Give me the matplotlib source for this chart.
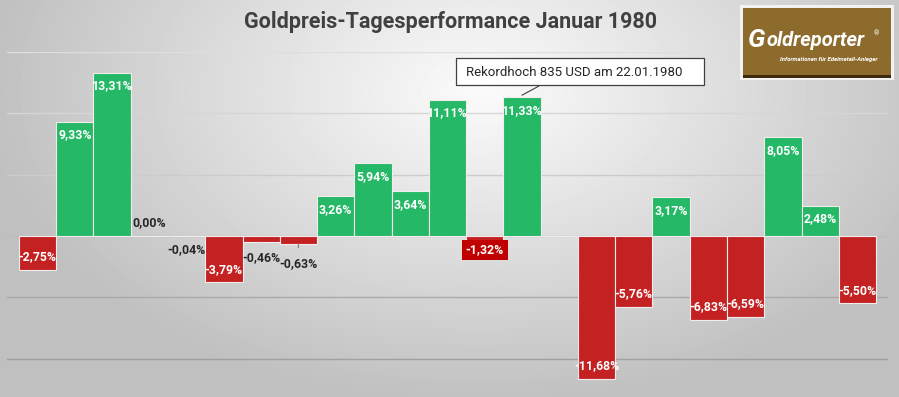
import numpy as np
import matplotlib.pyplot as plt
from matplotlib.patches import Rectangle

# Tagesperformance in Prozent (NaN = kein Handelstag)
values = [-2.75, 9.33, 13.31, 0.00, -0.04, -3.79, -0.46, -0.63, 3.26, 5.94,
          3.64, 11.11, -1.32, 11.33, np.nan, -11.68, -5.76, 3.17, -6.83,
          -6.59, 8.05, 2.48, -5.50]
title = 'Goldpreis-Tagesperformance Januar 1980'
note = 'Rekordhoch 835 USD am 22.01.1980'
note_idx = 13

GREEN = '#25b866'
RED = '#c42222'

W, H = 899, 397
plt.rcParams['font.family'] = ['Roboto', 'DejaVu Sans']

fig = plt.figure(figsize=(W / 100, H / 100), dpi=100)

# Hintergrund mit radialem Verlauf
bg = fig.add_axes([0, 0, 1, 1], zorder=-10)
yy, xx = np.mgrid[0:H, 0:W]
d = np.sqrt(((xx - 480) / 520.0) ** 2 + ((yy - 90) / 330.0) ** 2)
g = np.clip(251 - 62 * d, 192, 251) / 255.0
bg.imshow(g, cmap='gray', vmin=0, vmax=1, extent=[0, W, H, 0], aspect='auto')
bg.axis('off')

ax = fig.add_axes([7 / W, 0, 881 / W, 345 / H])
ax.patch.set_alpha(0)
ax.set_xlim(-0.82, 22.82)
ax.set_ylim(-13.13, 15)
for s in ax.spines.values():
    s.set_visible(False)
ax.set_xticks([])
ax.set_yticks([])

grid_cols = {15: '#dedede', 10: '#d6d6d6', 5: '#cccccc', 0: '#bdbdbd',
             -5: '#aaaaaa', -10: '#a0a0a0'}
for gy, c in grid_cols.items():
    ax.axhline(gy, color=c, lw=1.0, zorder=0)

x = np.arange(len(values))
vals = np.array(values)
cols = [GREEN if v >= 0 else RED for v in np.nan_to_num(vals)]
ax.bar(x, np.nan_to_num(vals), width=1.0, color=cols, edgecolor='#f4ecec',
       linewidth=0.8, zorder=2)

# Versatz (in Punkt) der Beschriftungen bei kleinen Balken
small_off = {3: 9.5, 4: -9.7, 6: -11.8, 7: -14.6, 12: 1.5}

for i, v in enumerate(values):
    if np.isnan(v):
        continue
    txt = ('%.2f%%' % v).replace('.', ',')
    kw = dict(textcoords='offset points', ha='center', va='center',
              fontsize=8.8, fontweight='bold', zorder=5)
    if i == 12:
        ax.annotate(txt, (i, v), xytext=(0, small_off[i]), color='white',
                    bbox=dict(boxstyle='square,pad=0.3', fc='#c00000',
                              ec='none'), **kw)
    elif i in small_off:
        arrow = None
        if v < -0.1:
            arrow = dict(arrowstyle='-', color='#808080', lw=0.8,
                         shrinkA=5, shrinkB=0)
        ax.annotate(txt, (i, v), xytext=(0, small_off[i]), color='#262626',
                    arrowprops=arrow, **kw)
    else:
        off = -9.5 if v > 0 else 9.5
        ax.annotate(txt, (i, v), xytext=(0, off), color='white', **kw)

# Hinweisbox Rekordhoch
fig.patches.append(Rectangle((456 / W, 1 - 85 / H), 248 / W, 27 / H,
                             transform=fig.transFigure, fc='white',
                             ec='#404040', lw=0.9, zorder=6))
fig.text(466 / W, 1 - 72 / H, note, ha='left', va='center', fontsize=9.5,
         color='#262626', zorder=7)
ax.annotate('', xy=(note_idx, values[note_idx] + 0.15),
            xytext=(539, H - 86), textcoords='figure pixels',
            arrowprops=dict(arrowstyle='-', color='#404040', lw=0.8,
                            shrinkA=0, shrinkB=0), zorder=6)

fig.text(450 / W, 1 - 22 / H, title, ha='center', va='center', fontsize=15.5,
         fontweight='bold', color='#404040')

# Logo
fig.patches.append(Rectangle((740 / W, 1 - 80 / H), 154 / W, 75 / H,
                             transform=fig.transFigure, fc='#f2f2f2',
                             ec='none', zorder=3))
fig.patches.append(Rectangle((743 / W, 1 - 78 / H), 148 / W, 70 / H,
                             transform=fig.transFigure, fc='#8d6b2c',
                             ec='none', zorder=4))
fig.patches.append(Rectangle((743 / W, 1 - 78 / H), 148 / W, 3 / H,
                             transform=fig.transFigure, fc='#3d2a0c',
                             ec='none', zorder=4))
fig.text(748 / W, 1 - 40 / H, 'G', fontsize=19, style='italic',
         fontweight='bold', color='white', ha='left', va='center', zorder=8)
fig.text(767 / W, 1 - 41 / H, 'oldreporter', fontsize=14.5, style='italic',
         fontweight='bold', color='white', ha='left', va='center', zorder=8)
fig.text(874 / W, 1 - 34 / H, '\u00ae', fontsize=5, color='white',
         ha='left', va='center', zorder=8)
fig.text(829 / W, 1 - 60 / H, 'Informationen f\u00fcr Edelmetall-Anleger',
         fontsize=4.3, style='italic', fontweight='bold', color='white',
         ha='center', va='center', zorder=8)

fig.savefig('out.png', dpi=100)
